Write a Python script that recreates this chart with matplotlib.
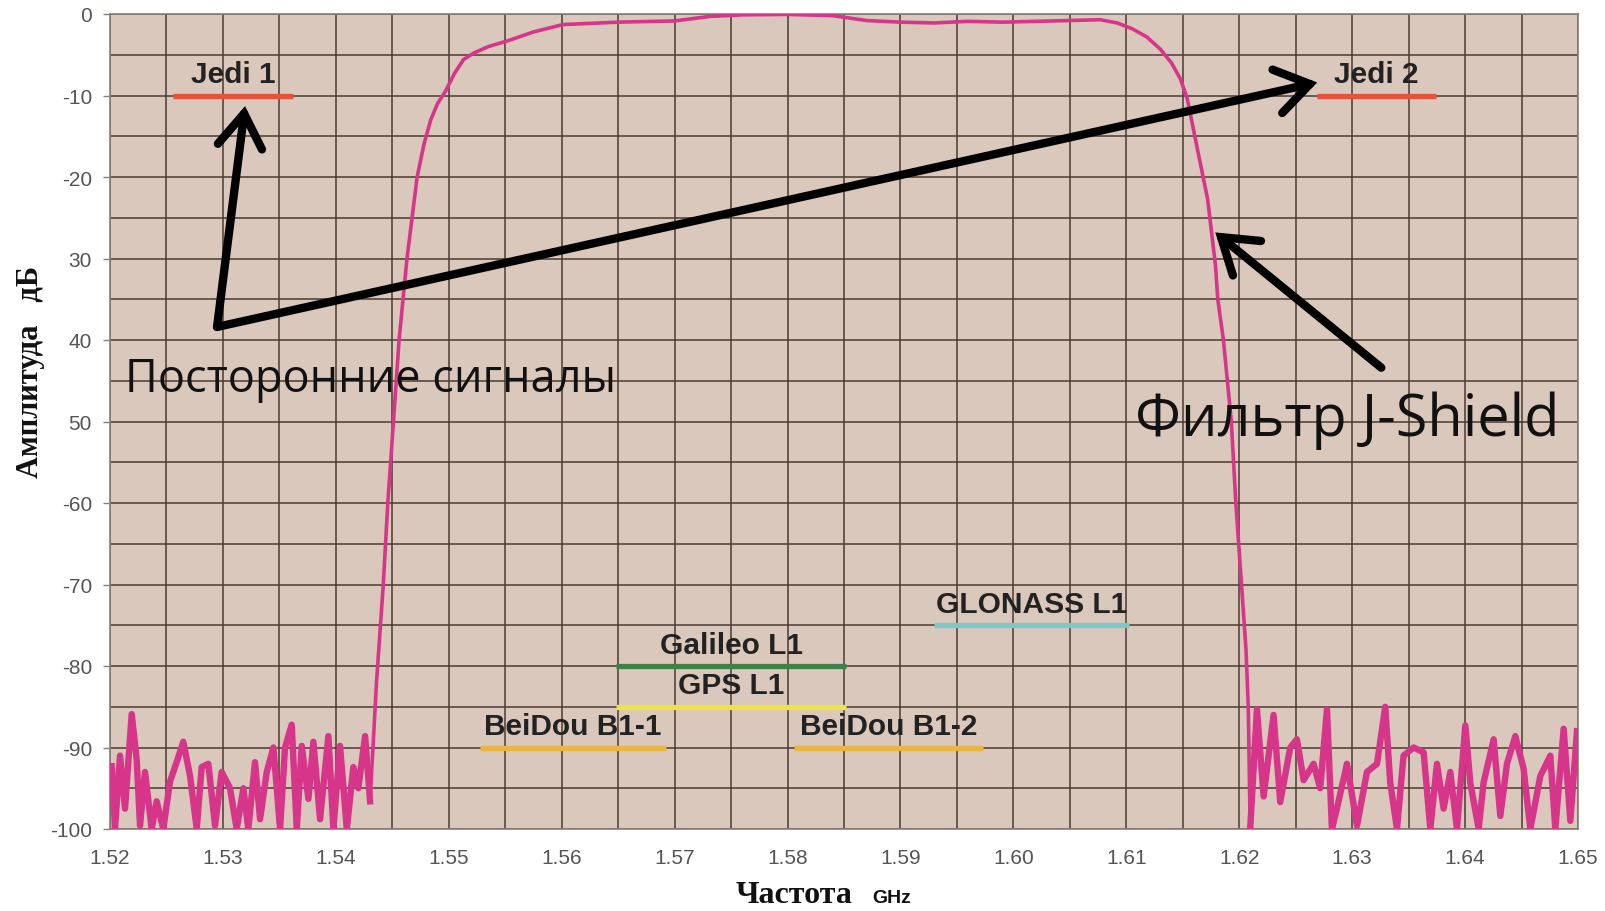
import matplotlib.pyplot as plt
import numpy as np

# шум слева от полосы (ГГц, дБ)
noise_left_x = [1.52015, 1.52044, 1.52089, 1.52133, 1.52192, 1.52236, 1.52266, 1.52310, 1.52369,
                1.52413, 1.52472, 1.52531, 1.52590, 1.52649, 1.52709, 1.52768, 1.52812, 1.52871,
                1.52930, 1.52989, 1.53063, 1.53122, 1.53181, 1.53225, 1.53284, 1.53329, 1.53388,
                1.53447, 1.53506, 1.53550, 1.53609, 1.53654, 1.53698, 1.53757, 1.53801, 1.53860,
                1.53934, 1.53978, 1.54037, 1.54097, 1.54155, 1.54199, 1.54259, 1.54303]
noise_left_db = [-92.3, -100, -91.0, -97.5, -85.9, -91.4, -99.6, -93.0, -100,
                 -96.6, -100, -94.2, -91.8, -89.3, -93.5, -100, -92.4, -92.0,
                 -99.6, -93.0, -95.0, -100, -95.0, -100, -91.8, -98.8, -93.0,
                 -90.0, -100, -90.0, -87.2, -100, -89.8, -96.3, -89.3, -98.8,
                 -88.6, -100, -89.8, -100, -92.4, -95.0, -88.6, -96.6]

# полоса пропускания фильтра
pass_x = [1.54303, 1.5436, 1.5442, 1.5446, 1.5451, 1.5456, 1.5463, 1.5472, 1.5478, 1.5484,
          1.5490, 1.5497, 1.5505, 1.5513, 1.5522, 1.5535, 1.5552, 1.5575, 1.5601, 1.5650,
          1.5700, 1.5731, 1.5760, 1.5800, 1.5840, 1.5870, 1.5900, 1.5930, 1.5960, 1.5990,
          1.6020, 1.6050, 1.6077, 1.6092, 1.6105, 1.6118, 1.6130, 1.6140, 1.6148, 1.6154,
          1.6163, 1.6172, 1.6179, 1.6181, 1.6186, 1.6193, 1.6197, 1.6202, 1.6206, 1.6208,
          1.62097]
pass_db = [-96.6, -82, -70, -60, -50, -40, -30, -20, -16, -13,
           -11, -9.5, -7.3, -5.6, -4.8, -4.0, -3.3, -2.2, -1.3, -1.0,
           -0.85, -0.3, -0.1, -0.05, -0.2, -0.8, -1.0, -1.1, -0.9, -1.0,
           -0.9, -0.8, -0.7, -1.1, -1.8, -2.8, -4.3, -6.0, -8.0, -10.4,
           -16.6, -22.7, -30.9, -35, -40, -50, -60, -70, -78, -85,
           -100]

# шум справа от полосы
noise_right_x = [1.62097, 1.62157, 1.62216, 1.62304, 1.62363, 1.62452, 1.62511, 1.62570, 1.62658,
                 1.62717, 1.62777, 1.62821, 1.62865, 1.62954, 1.63043, 1.63131, 1.63220, 1.63293,
                 1.63337, 1.63397, 1.63455, 1.63544, 1.63633, 1.63692, 1.63751, 1.63810, 1.63869,
                 1.63928, 1.64002, 1.64046, 1.64120, 1.64164, 1.64253, 1.64312, 1.64371, 1.64445,
                 1.64518, 1.64578, 1.64666, 1.64755, 1.64799, 1.64873, 1.64932, 1.64991]
noise_right_db = [-100, -85.3, -96.0, -86.0, -96.7, -90.0, -89.0, -94.0, -92.0,
                  -95.0, -85.3, -100, -97.5, -92.0, -99.6, -93.0, -92.0, -85.0,
                  -94.3, -100, -91.0, -90.0, -90.6, -100, -92.0, -97.5, -93.0,
                  -100, -87.3, -94.3, -100, -94.3, -89.0, -98.4, -92.0, -88.6,
                  -92.6, -100, -93.5, -91.0, -100, -87.7, -99.0, -88.0]

# сигналы
band_names = ["Jedi 1", "Jedi 2", "GLONASS L1", "Galileo L1", "GPS L1", "BeiDou B1-1", "BeiDou B1-2"]
band_start = [1.5256, 1.6269, 1.5930, 1.5648, 1.5648, 1.5528, 1.5806]
band_end = [1.5362, 1.6374, 1.6102, 1.5852, 1.5852, 1.5692, 1.5973]
band_level = [-10, -10, -75, -80, -85, -90, -90]
band_colors = ["#e5533d", "#e5533d", "#7ec8cc", "#3f7f48", "#ece24a", "#e9b642", "#e9b642"]

y_ticks = [0, -10, -20, -30, -40, -50, -60, -70, -80, -90, -100]
y_tick_labels = ["0", "-10", "-20", "30", "40", "50", "-60", "-70", "-80", "-90", "-100"]
x_ticks = [1.52, 1.53, 1.54, 1.55, 1.56, 1.57, 1.58, 1.59, 1.60, 1.61, 1.62, 1.63, 1.64, 1.65]

fig = plt.figure(figsize=(16.06, 9.12), dpi=100)
ax = fig.add_axes([110 / 1606, 1 - 830 / 912, 1468 / 1606, 815 / 912])
ax.set_facecolor("#d9c8bb")

ax.set_xlim(1.52, 1.65)
ax.set_ylim(-100, 0)

# сетка
for gx in np.arange(1.52, 1.6501, 0.005):
    ax.axvline(gx, color="#4a3b31", lw=1.1, zorder=1)
for gy in np.arange(-100, 0.1, 5):
    ax.axhline(gy, color="#4a3b31", lw=1.1, zorder=1)

curve_col = "#d6358a"
ax.plot(pass_x, pass_db, color=curve_col, lw=2.6, solid_joinstyle="round", zorder=3)
ax.plot(noise_left_x, noise_left_db, color=curve_col, lw=4.6, solid_joinstyle="round", zorder=3)
ax.plot(noise_right_x, noise_right_db, color=curve_col, lw=4.6, solid_joinstyle="round", zorder=3)

for name, x0, x1, lvl, col in zip(band_names, band_start, band_end, band_level, band_colors):
    ax.plot([x0, x1], [lvl, lvl], color=col, lw=3.8, solid_capstyle="butt", zorder=4)
    ax.text((x0 + x1) / 2, lvl + 0.9, name, ha="center", va="bottom", fontsize=21.5,
            fontweight="bold", family="Liberation Sans", color="#222222", zorder=5)

ax.set_xticks(x_ticks)
ax.set_xticklabels([f"{v:.2f}" for v in x_ticks], fontsize=15, family="Liberation Sans", color="#555555")
ax.set_yticks(y_ticks)
ax.set_yticklabels(y_tick_labels, fontsize=15, family="Liberation Sans", color="#555555")
ax.tick_params(axis="x", length=0, pad=14)
ax.tick_params(axis="y", length=5, width=1, color="#8a7e76", pad=8)
for s in ax.spines.values():
    s.set_color("#8a7e76")
    s.set_linewidth(1.2)

# стрелки
arrow = dict(arrowstyle="->, head_length=0.6, head_width=0.4", lw=6, color="black",
             shrinkA=0, shrinkB=0, mutation_scale=40, capstyle="round", joinstyle="miter")
ax.annotate("", xy=(1.53196, -11.3), xytext=(1.52948, -38.4), arrowprops=arrow, zorder=6)
ax.annotate("", xy=(1.62691, -8.4), xytext=(1.52948, -38.4), arrowprops=arrow, zorder=6)
ax.annotate("", xy=(1.61788, -26.8), xytext=(1.63258, -43.4), arrowprops=arrow, zorder=6)

ax.text(1.52135, -44.8, "Посторонние сигналы", fontsize=32.5, family="Open Sans",
        ha="left", va="center", color="#111111", zorder=6)
ax.text(1.6108, -49.8, "Фильтр J-Shield", fontsize=41.5, family="Open Sans",
        ha="left", va="center", color="#111111", zorder=6)

# подписи осей
fig.text(0.0193, 0.592, "Амплитуда   дБ", rotation=90, ha="center", va="center",
         fontsize=22, fontweight="bold", family="Liberation Serif", color="#111111")
fig.text(0.4583, 0.01, "Частота", ha="left", va="baseline", fontsize=23,
         fontweight="bold", family="Liberation Serif", color="#111111")
fig.text(0.543, 0.01, "GHz", ha="left", va="baseline", fontsize=14,
         fontweight="bold", family="Liberation Sans", color="#111111")

fig.savefig("out.png", dpi=100, facecolor="white")
